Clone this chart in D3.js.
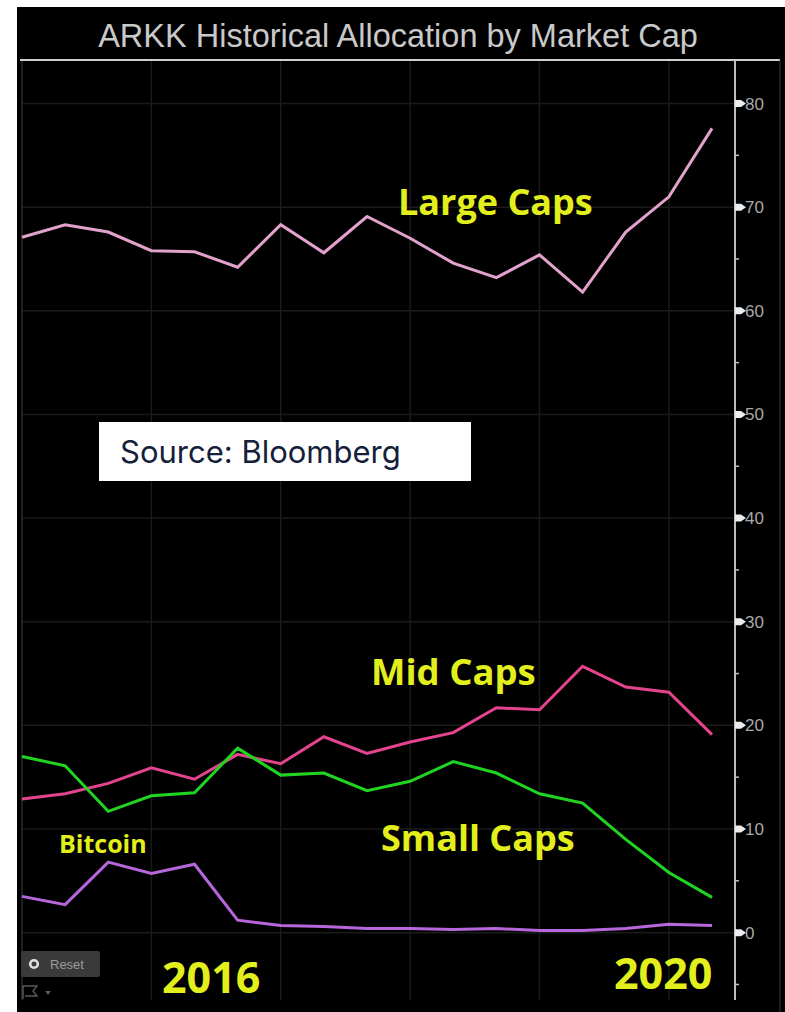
<!DOCTYPE html>
<html>
<head>
<meta charset="utf-8">
<script src="https://cdn.jsdelivr.net/npm/d3@7"></script>
<style>
  html, body { margin: 0; padding: 0; background: #ffffff; }
  svg { display: block; }
</style>
</head>
<body>
<svg id="chart" width="785" height="1012"></svg>
<script>
// ---- Data (percent allocation) ----
const periods = ["P1","P2","P3","P4","P5","P6","P7","P8","P9","P10","P11","P12","P13","P14","P15","P16","P17"];
const largeCaps = [67.1, 68.3, 67.6, 65.8, 65.7, 64.2, 68.3, 65.6, 69.1, 67.0, 64.6, 63.2, 65.4, 61.8, 67.6, 71.0, 77.6];
const midCaps   = [12.9, 13.4, 14.4, 15.9, 14.8, 17.2, 16.3, 18.9, 17.3, 18.4, 19.3, 21.7, 21.5, 25.7, 23.7, 23.2, 19.1];
const smallCaps = [17.0, 16.1, 11.7, 13.2, 13.5, 17.8, 15.2, 15.4, 13.7, 14.6, 16.5, 15.4, 13.4, 12.5, 9.0, 5.8, 3.4];
const bitcoin   = [3.5, 2.7, 6.8, 5.7, 6.6, 1.2, 0.7, 0.6, 0.4, 0.4, 0.3, 0.4, 0.2, 0.2, 0.4, 0.8, 0.7];
const majorTicks = [0, 10, 20, 30, 40, 50, 60, 70, 80];
const minorTicks = [-5, 5, 15, 25, 35, 45, 55, 65, 75];
const seriesNames = ["Large Caps", "Mid Caps", "Small Caps", "Bitcoin"];
const title = "ARKK Historical Allocation by Market Cap";
const yearLabels = ["2016", "2020"];
const sourceText = "Source: Bloomberg";

// ---- Layout ----
const svg = d3.select("#chart");
const W = 785, H = 1012;
const panel = { x: 17, y: 7 };
const plotLeft = 22, plotRight = 735, plotTop = 60, plotBottom = 1000;

const x = d3.scaleLinear().domain([0, periods.length - 1]).range([22, 712]);
const y = d3.scaleLinear().domain([-6.5, 84.2]).range([plotBottom, plotTop]);

// black panel
svg.append("rect").attr("x", panel.x).attr("y", panel.y)
  .attr("width", W - panel.x).attr("height", H - panel.y).attr("fill", "#000");

// title
svg.append("text").attr("x", 398).attr("y", 47)
  .attr("text-anchor", "middle")
  .attr("font-family", "Liberation Sans, Arial, sans-serif")
  .attr("font-size", 32.5).attr("fill", "#c9c9c9")
  .text(title);

// grid
const grid = svg.append("g");
grid.selectAll("line.h").data(majorTicks).join("line")
  .attr("x1", plotLeft).attr("x2", plotRight)
  .attr("y1", d => y(d)).attr("y2", d => y(d))
  .attr("stroke", "#1a1a1a").attr("stroke-width", 1.5);
const vIdx = d3.range(0, periods.length, 3);
grid.selectAll("line.v").data(vIdx).join("line")
  .attr("x1", d => x(d)).attr("x2", d => x(d))
  .attr("y1", plotTop).attr("y2", plotBottom)
  .attr("stroke", d => d === 0 ? "#2a2a2a" : "#1a1a1a").attr("stroke-width", 1.5);

// top line, right borders
svg.append("line").attr("x1", 20).attr("x2", 780).attr("y1", plotTop).attr("y2", plotTop)
  .attr("stroke", "#cfcfcf").attr("stroke-width", 2);
svg.append("line").attr("x1", 780).attr("x2", 780).attr("y1", plotTop).attr("y2", H)
  .attr("stroke", "#3a3a3a").attr("stroke-width", 1);

// y axis (right)
const axisG = svg.append("g");
axisG.append("line").attr("x1", plotRight).attr("x2", plotRight)
  .attr("y1", plotTop).attr("y2", plotBottom)
  .attr("stroke", "#bdbdbd").attr("stroke-width", 2);
axisG.selectAll("path.major").data(majorTicks).join("path")
  .attr("d", d => { const yy = y(d); return `M${plotRight},${yy-3.5}L${plotRight+6},${yy-3.5}L${plotRight+11},${yy}L${plotRight+6},${yy+3.5}L${plotRight},${yy+3.5}Z`; })
  .attr("fill", "#ececec");
axisG.selectAll("line.minor").data(minorTicks).join("line")
  .attr("x1", plotRight).attr("x2", plotRight + 4)
  .attr("y1", d => y(d)).attr("y2", d => y(d))
  .attr("stroke", "#bdbdbd").attr("stroke-width", 1.5);
axisG.selectAll("text").data(majorTicks).join("text")
  .attr("x", plotRight + 10).attr("y", d => y(d) + 6)
  .attr("font-family", "Liberation Sans, Arial, sans-serif")
  .attr("font-size", 17).attr("fill", "#a8a8a8")
  .text(d => d);

// lines
const line = d3.line().x((d, i) => x(i)).y(d => y(d));
const seriesData = [largeCaps, midCaps, smallCaps, bitcoin];
const colors = ["#e2a2cc", "#e4448e", "#22d422", "#b766dc"];
svg.append("g").selectAll("path").data(seriesData).join("path")
  .attr("d", line).attr("fill", "none")
  .attr("stroke", (d, i) => colors[i]).attr("stroke-width", 3)
  .attr("stroke-linejoin", "miter");

// annotations (series labels)
const yellow = "#e2ef1c";
const labelFont = "Open Sans, sans-serif";
const labelPos = [
  { x: 398, y: 215, size: 36 },
  { x: 371, y: 685, size: 36.5 },
  { x: 381, y: 851, size: 36 },
  { x: 59, y: 853, size: 25 }
];
svg.append("g").selectAll("text").data(seriesNames).join("text")
  .attr("x", (d, i) => labelPos[i].x).attr("y", (d, i) => labelPos[i].y)
  .attr("font-family", labelFont).attr("font-weight", 700)
  .attr("font-size", (d, i) => labelPos[i].size).attr("fill", yellow)
  .text(d => d);

// year labels
const yearPos = [{ x: 162, y: 993 }, { x: 614, y: 989 }];
svg.append("g").selectAll("text").data(yearLabels).join("text")
  .attr("x", (d, i) => yearPos[i].x).attr("y", (d, i) => yearPos[i].y)
  .attr("font-family", labelFont).attr("font-weight", 700)
  .attr("font-size", 43).attr("fill", yellow)
  .text(d => d);

// source box
svg.append("rect").attr("x", 99).attr("y", 422).attr("width", 372).attr("height", 59).attr("fill", "#fff");
svg.append("text").attr("x", 120).attr("y", 463)
  .attr("font-family", "Inter, sans-serif").attr("font-size", 31)
  .attr("fill", "#15203a").text(sourceText);

// reset button
const btn = svg.append("g");
btn.append("rect").attr("x", 21).attr("y", 951).attr("width", 79).attr("height", 26)
  .attr("rx", 2).attr("fill", "#3a3a3a");
btn.append("circle").attr("cx", 34).attr("cy", 964).attr("r", 3.8)
  .attr("fill", "none").attr("stroke", "#e0e0e0").attr("stroke-width", 2.6);
btn.append("text").attr("x", 50).attr("y", 969)
  .attr("font-family", "Liberation Sans, Arial, sans-serif").attr("font-size", 13)
  .attr("fill", "#9a9a9a").text("Reset");
// small icon below
btn.append("path").attr("d", "M23,999V986H37L33,991L37,996H25")
  .attr("fill", "none").attr("stroke", "#5a5a5a").attr("stroke-width", 1.4);
btn.append("path").attr("d", "M45,991L51,991L48,995Z").attr("fill", "#5a5a5a");
</script>
</body>
</html>
